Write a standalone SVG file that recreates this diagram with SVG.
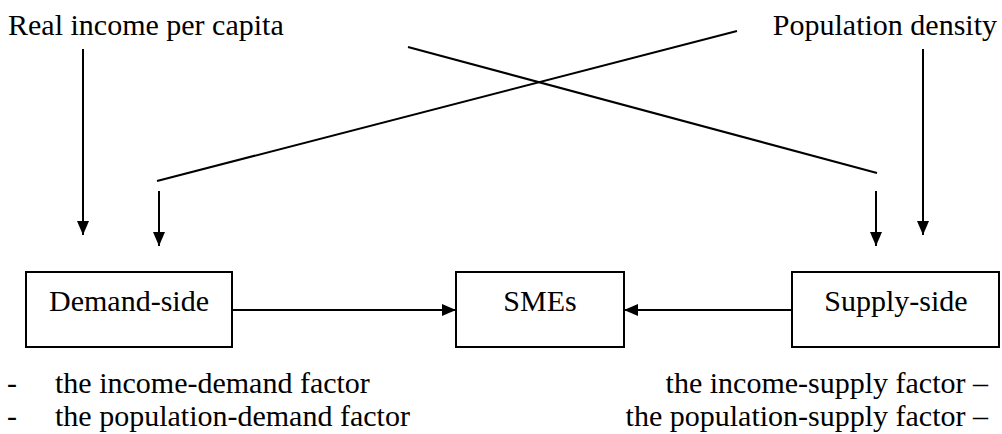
<svg xmlns="http://www.w3.org/2000/svg" width="1002" height="434" viewBox="0 0 1002 434">
<style>
text{font-family:"Liberation Serif","Times New Roman",serif;font-size:30px;fill:#000}
.box{fill:#fff;stroke:#000;stroke-width:2}
.ln{stroke:#000;stroke-width:2;fill:none}
.ar{stroke:#000;stroke-width:2;fill:none;marker-end:url(#ah)}
</style>
<defs>
<marker id="ah" viewBox="0 0 14 12" refX="14" refY="6" markerWidth="14" markerHeight="12" markerUnits="userSpaceOnUse" orient="auto">
<path d="M0,0L14,6L0,12Z" fill="#000"/>
</marker>
</defs>
<rect width="1002" height="434" fill="#fff"/>
<g id="income"><text x="8" y="35">Real income per capita</text></g>
<g id="density"><text x="997" y="35" text-anchor="end">Population density</text></g>
<g id="demand"><rect class="box" x="26" y="272" width="206" height="75"/><text x="129" y="311" text-anchor="middle">Demand-side</text></g>
<g id="smes"><rect class="box" x="456" y="272" width="168" height="75"/><text x="540" y="311" text-anchor="middle">SMEs</text></g>
<g id="supply"><rect class="box" x="792" y="272" width="207" height="75"/><text x="896" y="311" text-anchor="middle">Supply-side</text></g>
<g id="connectors">
<line class="ar" x1="83" y1="49" x2="83" y2="235"/>
<line class="ln" x1="157" y1="181" x2="737" y2="31"/>
<line class="ar" x1="159" y1="191" x2="159" y2="246"/>
<line class="ln" x1="408" y1="47" x2="877" y2="173"/>
<line class="ar" x1="876" y1="191" x2="876" y2="246"/>
<line class="ar" x1="923" y1="49" x2="923" y2="235"/>
<line class="ar" x1="232" y1="310" x2="456" y2="310"/>
<line class="ar" x1="792" y1="310" x2="624" y2="310"/>
</g>
<g id="notes">
<text x="7" y="393">-</text><text x="55" y="393">the income-demand factor</text>
<text x="7" y="426">-</text><text x="55" y="426">the population-demand factor</text>
<text x="988" y="393" text-anchor="end">the income-supply factor –</text>
<text x="988" y="426" text-anchor="end">the population-supply factor –</text>
</g>
</svg>
